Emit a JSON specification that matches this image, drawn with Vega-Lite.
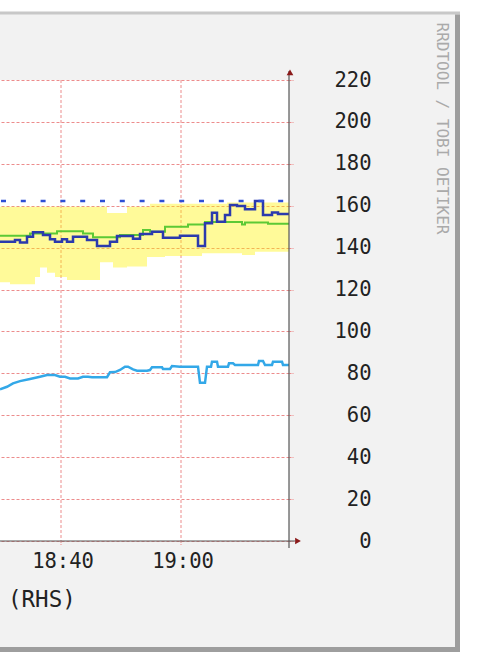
{
  "$schema": "https://vega.github.io/schema/vega-lite/v6.json",
  "width": 289,
  "height": 461,
  "autosize": {"type": "none"},
  "padding": {"left": 0, "top": 80, "right": 189, "bottom": 131},
  "background": "#f2f2f2",
  "config": {"view": {"fill": "#ffffff", "stroke": null}},
  "datasets": {
    "frame": [
      {"part": "margin", "t1": 0, "t2": 8000, "v1": 252.5, "v2": 280},
      {"part": "margin", "t1": 6390, "t2": 8000, "v1": -80, "v2": 280},
      {"part": "margin", "t1": 0, "t2": 8000, "v1": -80, "v2": -53.0},
      {"part": "light", "t1": 0, "t2": 6390, "v1": 251.3, "v2": 252.7},
      {"part": "dark", "t1": 6340, "t2": 6390, "v1": -53.0, "v2": 251.3},
      {"part": "dark", "t1": 0, "t2": 6390, "v1": -53.0, "v2": -50.6}
    ],
    "band": [
      {"t": 1790, "lo": 123.5, "hi": 159.5},
      {"t": 1890, "lo": 122.5, "hi": 159.5},
      {"t": 2140, "lo": 126, "hi": 159.5},
      {"t": 2190, "lo": 130.5, "hi": 159.5},
      {"t": 2260, "lo": 128, "hi": 159.5},
      {"t": 2340, "lo": 126, "hi": 159.5},
      {"t": 2460, "lo": 124.5, "hi": 159.5},
      {"t": 2790, "lo": 133, "hi": 159.5},
      {"t": 2860, "lo": 133, "hi": 156.5},
      {"t": 2920, "lo": 130.5, "hi": 156.5},
      {"t": 3060, "lo": 131, "hi": 159.5},
      {"t": 3260, "lo": 135.5, "hi": 159.5},
      {"t": 3290, "lo": 135.5, "hi": 161},
      {"t": 3440, "lo": 136, "hi": 161},
      {"t": 3810, "lo": 137.3, "hi": 161},
      {"t": 4060, "lo": 137.3, "hi": 161.5},
      {"t": 4210, "lo": 136.5, "hi": 161.5},
      {"t": 4340, "lo": 138, "hi": 161.5},
      {"t": 4680, "lo": 138, "hi": 161.5}
    ],
    "green": [
      {"t": 1790, "v": 145.7},
      {"t": 2090, "v": 146.8},
      {"t": 2360, "v": 147.8},
      {"t": 2620, "v": 146.8},
      {"t": 2720, "v": 144.9},
      {"t": 2990, "v": 146},
      {"t": 3220, "v": 148.4},
      {"t": 3290, "v": 147.6},
      {"t": 3440, "v": 150},
      {"t": 3670, "v": 151.1},
      {"t": 3840, "v": 152.2},
      {"t": 4210, "v": 151},
      {"t": 4240, "v": 152},
      {"t": 4470, "v": 151.4},
      {"t": 4680, "v": 151.4}
    ],
    "blue": [
      {"t": 1790, "v": 142.8},
      {"t": 1940, "v": 143.6},
      {"t": 1990, "v": 142.4},
      {"t": 2060, "v": 145.2},
      {"t": 2120, "v": 147.3},
      {"t": 2220, "v": 146},
      {"t": 2290, "v": 144},
      {"t": 2340, "v": 142.8},
      {"t": 2410, "v": 144},
      {"t": 2460, "v": 142.8},
      {"t": 2520, "v": 145.2},
      {"t": 2660, "v": 143.6},
      {"t": 2760, "v": 140.8},
      {"t": 2890, "v": 142.8},
      {"t": 2960, "v": 145.5},
      {"t": 3120, "v": 144.2},
      {"t": 3190, "v": 146.5},
      {"t": 3310, "v": 147.6},
      {"t": 3420, "v": 144.7},
      {"t": 3590, "v": 145.7},
      {"t": 3770, "v": 140.8},
      {"t": 3840, "v": 151.6},
      {"t": 3910, "v": 156.7},
      {"t": 3960, "v": 152.4},
      {"t": 4040, "v": 155.6},
      {"t": 4090, "v": 160.3},
      {"t": 4160, "v": 159.9},
      {"t": 4240, "v": 158.3},
      {"t": 4340, "v": 162.3},
      {"t": 4420, "v": 155.6},
      {"t": 4510, "v": 156.8},
      {"t": 4570, "v": 156},
      {"t": 4680, "v": 156}
    ],
    "lightblue": [
      {"t": 1790, "v": 72.4},
      {"t": 1860, "v": 73.6},
      {"t": 1920, "v": 75.2},
      {"t": 1990, "v": 76.3},
      {"t": 2090, "v": 77.3},
      {"t": 2190, "v": 78.4},
      {"t": 2260, "v": 79.2},
      {"t": 2340, "v": 79.2},
      {"t": 2390, "v": 78.4},
      {"t": 2440, "v": 78.4},
      {"t": 2490, "v": 77.6},
      {"t": 2570, "v": 77.6},
      {"t": 2620, "v": 78.4},
      {"t": 2670, "v": 78.4},
      {"t": 2710, "v": 78.2},
      {"t": 2860, "v": 78.2},
      {"t": 2890, "v": 80.5},
      {"t": 2940, "v": 80.6},
      {"t": 2990, "v": 81.6},
      {"t": 3040, "v": 83.2},
      {"t": 3070, "v": 83.2},
      {"t": 3120, "v": 81.9},
      {"t": 3160, "v": 81.3},
      {"t": 3260, "v": 81.3},
      {"t": 3290, "v": 81.6},
      {"t": 3310, "v": 82.9},
      {"t": 3410, "v": 82.9},
      {"t": 3420, "v": 82.1},
      {"t": 3490, "v": 82.1},
      {"t": 3510, "v": 83.5},
      {"t": 3590, "v": 83.2},
      {"t": 3770, "v": 83.2},
      {"t": 3790, "v": 75.5},
      {"t": 3840, "v": 75.5},
      {"t": 3860, "v": 83.2},
      {"t": 3900, "v": 83.2},
      {"t": 3910, "v": 85.6},
      {"t": 3960, "v": 85.6},
      {"t": 3970, "v": 83.2},
      {"t": 4070, "v": 83.2},
      {"t": 4080, "v": 84.8},
      {"t": 4120, "v": 84.8},
      {"t": 4140, "v": 84},
      {"t": 4370, "v": 84},
      {"t": 4380, "v": 85.9},
      {"t": 4420, "v": 85.9},
      {"t": 4440, "v": 84},
      {"t": 4510, "v": 84},
      {"t": 4520, "v": 85.6},
      {"t": 4610, "v": 85.6},
      {"t": 4620, "v": 84},
      {"t": 4680, "v": 84}
    ],
    "limit": [{"t1": 1800, "t2": 4660, "v": 162.3}],
    "axisrules": [
      {"part": "v", "t1": 4680, "t2": 4680, "v1": -3.3, "v2": 224.3},
      {"part": "h", "t1": 0, "t2": 4740, "v1": 0, "v2": 0}
    ],
    "arrows": [
      {"dir": "up", "t": 4690, "v": 223.6},
      {"dir": "right", "t": 4770, "v": 0}
    ]
  },
  "encoding": {
    "x": {
      "field": "t",
      "type": "quantitative",
      "scale": {"domain": [1790, 4680], "nice": false, "zero": false},
      "axis": {
        "values": [2400, 3600],
        "labelExpr": "utcFormat((datum.value + 64800) * 1000, '%H:%M')",
        "translate": 0,
        "domain": false,
        "grid": true,
        "gridColor": "#ec8c8c",
        "gridDash": [3, 2],
        "gridWidth": 1,
        "ticks": true,
        "tickColor": "#ec8c8c",
        "tickSize": 4,
        "tickDash": [2, 1],
        "labelFont": "DejaVu Sans Mono",
        "labelFontSize": 20.5,
        "labelColor": "#222222",
        "labelBaseline": "top",
        "labelPadding": 7,
        "labelOffset": 2,
        "labelFlush": false,
        "labelOverlap": false,
        "title": "(RHS)",
        "titleFont": "DejaVu Sans Mono",
        "titleFontSize": 22.5,
        "titleFontWeight": "normal",
        "titleColor": "#222222",
        "titleAlign": "left",
        "titleBaseline": "middle",
        "titleAnchor": "start",
        "titleX": 8,
        "titleY": 59
      }
    },
    "y": {
      "type": "quantitative",
      "scale": {"domain": [0, 220], "nice": false, "zero": false},
      "axis": {
        "orient": "right",
        "values": [0, 20, 40, 60, 80, 100, 120, 140, 160, 180, 200, 220],
        "domain": false,
        "grid": true,
        "gridColor": "#ec8c8c",
        "gridDash": [3, 2],
        "gridWidth": 1,
        "ticks": true,
        "tickColor": "#ec8c8c",
        "tickSize": 4,
        "tickDash": [2, 1],
        "labelFont": "DejaVu Sans Mono",
        "labelFontSize": 20.5,
        "labelColor": "#222222",
        "labelAlign": "right",
        "labelBaseline": "middle",
        "labelPadding": 78,
        "labelOverlap": false,
        "labelFlush": false,
        "title": "RRDTOOL / TOBI OETIKER",
        "titleFont": "DejaVu Sans Mono",
        "titleFontSize": 16,
        "titleFontWeight": "normal",
        "titleColor": "#aaaaaa",
        "titleAngle": 90,
        "titleAlign": "left",
        "titleBaseline": "middle",
        "titleX": 152,
        "titleY": -58
      }
    }
  },
  "layer": [
    {
      "data": {"name": "frame"},
      "mark": {"type": "rect"},
      "encoding": {
        "x": {"field": "t1", "type": "quantitative"},
        "x2": {"field": "t2"},
        "y": {"field": "v1", "type": "quantitative"},
        "y2": {"field": "v2"},
        "color": {"field": "part", "type": "nominal", "scale": {"domain": ["margin", "light", "dark"], "range": ["#ffffff", "#c8c8c8", "#9e9e9e"]}, "legend": null}
      }
    },
    {
      "data": {"name": "band"},
      "mark": {"type": "area", "interpolate": "step-after", "color": "#fff200", "opacity": 0.4},
      "encoding": {
        "y": {"field": "lo", "type": "quantitative"},
        "y2": {"field": "hi"}
      }
    },
    {
      "data": {"name": "green"},
      "mark": {"type": "line", "interpolate": "step-after", "color": "#5cc935", "strokeWidth": 2},
      "encoding": {"y": {"field": "v", "type": "quantitative"}}
    },
    {
      "data": {"name": "lightblue"},
      "mark": {"type": "line", "color": "#33a8e8", "strokeWidth": 2.5},
      "encoding": {"y": {"field": "v", "type": "quantitative"}}
    },
    {
      "data": {"name": "blue"},
      "mark": {"type": "line", "interpolate": "step-after", "color": "#2b3aad", "strokeWidth": 2.5},
      "encoding": {"y": {"field": "v", "type": "quantitative"}}
    },
    {
      "data": {"name": "limit"},
      "mark": {"type": "rule", "color": "#2e4fd6", "strokeWidth": 2.5, "strokeDash": [5, 14.8]},
      "encoding": {
        "x": {"field": "t1", "type": "quantitative"},
        "x2": {"field": "t2"},
        "y": {"field": "v", "type": "quantitative"}
      }
    },
    {
      "data": {"name": "axisrules"},
      "mark": {"type": "rule", "color": "#555555", "strokeWidth": 1.2},
      "encoding": {
        "x": {"field": "t1", "type": "quantitative"},
        "x2": {"field": "t2"},
        "y": {"field": "v1", "type": "quantitative"},
        "y2": {"field": "v2"}
      }
    },
    {
      "data": {"name": "arrows"},
      "mark": {"type": "point", "filled": true, "opacity": 1, "color": "#8b1a1a", "size": 45},
      "encoding": {
        "x": {"field": "t", "type": "quantitative"},
        "y": {"field": "v", "type": "quantitative"},
        "shape": {"field": "dir", "type": "nominal", "scale": {"domain": ["up", "right"], "range": ["triangle-up", "triangle-right"]}, "legend": null}
      }
    }
  ]
}
